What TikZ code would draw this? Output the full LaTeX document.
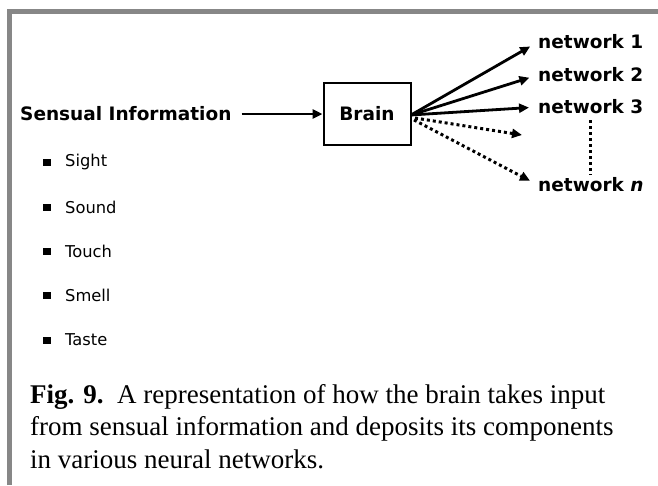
\documentclass[tikz,border=0pt]{standalone}
\usepackage{fontspec}
\setmainfont{Liberation Serif}
\newfontfamily\verd{DejaVu Sans}
\usetikzlibrary{arrows.meta}
\definecolor{framegray}{HTML}{878787}
\begin{document}
\begin{tikzpicture}[x=1pt,y=-1pt,
  lbl/.style={font=\verd\bfseries\fontsize{18.5}{21}\selectfont, inner sep=0pt},
  item/.style={font=\verd\fontsize{16.3}{18}\selectfont, inner sep=0pt, anchor=west},
  arr/.style={line width=2.8pt, -{Triangle[length=10pt,width=9pt]}},
  darr/.style={line width=3pt, dash pattern=on 3pt off 3pt, -{Triangle[length=10pt,width=9pt]}},
  bul/.style={fill=black, minimum width=8pt, minimum height=7pt, inner sep=0pt}]
\useasboundingbox (0,0) rectangle (658,485);
\fill[white] (0,0) rectangle (658,485);
\draw[framegray, line width=5pt] (9.8,485) -- (9.8,11.7) -- (658,11.7);

\node[lbl, anchor=west] (sens) at (20,114) {Sensual Information};
\node[draw, line width=2pt, minimum width=87pt, minimum height=62pt, inner sep=0pt] (brain) at (367,114) {};
\node[lbl] (brainlbl) at (367,114) {Brain};
\draw[arr] (sens.east) ++(10,0) coordinate (sa) -- (brain.west);

\coordinate (o) at (411,115);
\node[lbl, anchor=west] (n1) at (538,42) {network 1};
\node[lbl, anchor=west] (n2) at (538,75) {network 2};
\node[lbl, anchor=west] (n3) at (538,107) {network 3};
\node[lbl, anchor=west] (nn) at (538,185) {network \itshape n};
\coordinate (d1) at (522,135);

\draw[arr, shorten >=9pt] (o) -- (n1.west);
\draw[arr, shorten >=9pt] (o) -- (n2.west);
\draw[arr, shorten >=9pt] (o) -- (n3.west);
\draw[darr] (o) ++(4,3) -- (d1);
\draw[darr, shorten >=9pt] (o) ++(3,5) -- (nn.west);
\draw[line width=3pt, dash pattern=on 3pt off 3pt] (590,120) -- (590,175);

\foreach \t/\y/\n in {Sight/162/a, Sound/207/b, Touch/251/c, Smell/295/d, Taste/340/e}{
  \node[bul] (b\n) at (47,\y) {};
  \node[item] (t\n) at (65,\y) {\t};
}

\node[anchor=north west, align=left, inner sep=0pt, font=\fontsize{27}{32.5}\selectfont] (cap) at (30,384)
{\textbf{Fig. 9.}\ \ A representation of how the brain takes input\\
from sensual information and deposits its components\\
in various neural networks.};
\end{tikzpicture}
\end{document}
